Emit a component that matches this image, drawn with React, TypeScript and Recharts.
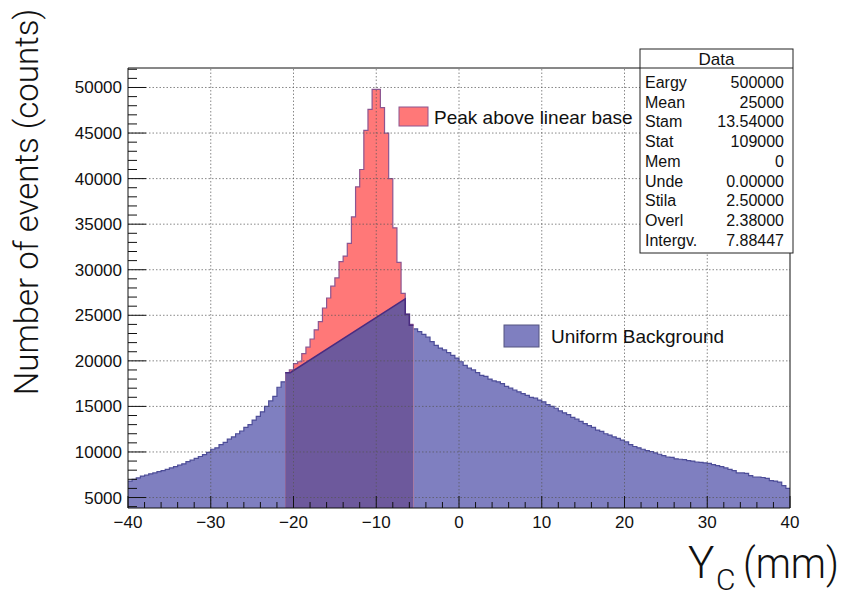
import React from 'react';
import { ComposedChart, Area, XAxis, YAxis, ReferenceLine } from 'recharts';

// ---------- data ----------
const binWidth = 0.5;
const histStart = -40;

// Uniform background, 0.5 mm bins from -40 to 40 (null where hidden by the peak window)
const backgroundCounts: (number | null)[] = [
  // -40 .. -21
  6800, 7000, 7150, 7350, 7450, 7600, 7700, 7850, 7950, 8100,
  8250, 8400, 8550, 8700, 8950, 9100, 9300, 9500, 9700, 9950,
  10300, 10450, 10800, 11050, 11400, 11650, 12000, 12300, 12700, 13000,
  13500, 13900, 14400, 15000, 15600, 16100, 17100, 17700,
  // -21 .. -5.5 (window)
  null, null, null, null, null, null, null, null, null, null,
  null, null, null, null, null, null, null, null, null, null,
  null, null, null, null, null, null, null, null, null, null, null,
  // -5.5 .. 40
  23500, 23200, 22900, 22600, 22100, 21700, 21400, 21200, 20900, 20600,
  20300, 19900, 19500, 19200, 19000, 18700, 18400, 18300, 18000, 17800,
  17700, 17500, 17200, 17000, 16800, 16600, 16400, 16200, 16000, 15900,
  15700, 15500, 15200, 15000, 14800, 14500, 14300, 14100, 13800, 13600,
  13350, 13100, 12900, 12700, 12400, 12250, 12000, 11850, 11650, 11500,
  11300, 11100, 10800, 10600, 10450, 10300, 10150, 10050, 9900, 9750,
  9600, 9450, 9400, 9250, 9200, 9150, 9050, 9000, 8900, 8850,
  8800, 8750, 8600, 8500, 8400, 8250, 8100, 7950, 7700, 7700,
  7650, 7400, 7250, 7250, 7200, 7100, 6850, 6800, 6700, 6300, 6000,
];

// Peak histogram inside the window, 0.5 mm bins from -21 to -5.5
const peakStart = -21;
const peakCounts: number[] = [
  18700, 19000, 19700, 19900, 20800, 21500, 22400, 23400, 24300, 25800,
  26900, 28200, 29100, 30900, 31500, 32900, 35800, 39100, 41000, 45300,
  47600, 49800, 49800, 47800, 45000, 40000, 34600, 30800, 27400, 25100, 24000,
];

// Linear base under the peak (window outline)
const baseX = [-21, -20.4, -6.5, -6.5, -6.0, -6.0, -5.5];
const baseY = [18700, 18700, 26800, 25100, 25100, 23900, 23900];

const xGrid = [-30, -20, -10, 0, 10, 20, 30];
const yGrid = [5000, 10000, 15000, 20000, 25000, 30000, 35000, 40000, 45000, 50000];
const xTicks: number[] = [];
for (let v = -40; v <= 40; v += 2) xTicks.push(v);
const yTicks: number[] = [];
for (let v = 4000; v <= 52000; v += 1000) yTicks.push(v);

const statLabels = ['Eargy', 'Mean', 'Stam', 'Stat', 'Mem', 'Unde', 'Stila', 'Overl', 'Intergv.'];
const statValues = ['500000', '25000', '13.54000', '109000', '0', '0.00000', '2.50000', '2.38000', '7.88447'];

const legendLabels = ['Peak above linear base', 'Uniform Background'];

// ---------- helpers ----------
function stepRows(start: number, width: number, counts: (number | null)[]) {
  const rows: { x: number; y: number | null }[] = [];
  for (let i = 0; i < counts.length; i++) {
    const c = counts[i];
    const prev = i > 0 ? counts[i - 1] : null;
    rows.push({ x: start + i * width, y: c != null ? c : prev });
  }
  rows.push({ x: start + counts.length * width, y: counts[counts.length - 1] });
  return rows;
}

const bgRows = stepRows(histStart, binWidth, backgroundCounts);
const peakRows = stepRows(peakStart, binWidth, peakCounts);
const baseRows = baseX.map((x, i) => ({ x, y: baseY[i] }));

const FONT = '"Liberation Sans", Arial, Helvetica, sans-serif';
const LIGHT = 'Roboto, "Noto Sans", sans-serif';

const fmt = (v: number) => (v < 0 ? '\u2212' + Math.abs(v) : String(v));

const XTick = (props: any) => {
  const { x, y, payload } = props;
  const v = payload.value as number;
  const major = Math.abs(v % 10) === 0;
  return (
    <g>
      <line x1={x} x2={x} y1={y} y2={y - (major ? 12 : 6)} stroke="#111" strokeWidth={1} />
      {major && (
        <text x={x} y={y + 20} textAnchor="middle" fontSize={17} fontFamily={FONT} fill="#111">
          {fmt(v)}
        </text>
      )}
    </g>
  );
};

const YTick = (props: any) => {
  const { x, y, payload } = props;
  const v = payload.value as number;
  const major = v % 5000 === 0;
  return (
    <g>
      <line x1={x} x2={x + (major ? 18 : 9)} y1={y} y2={y} stroke="#111" strokeWidth={1} />
      {major && (
        <text x={x - 6} y={y + 6} textAnchor="end" fontSize={17} fontFamily={FONT} fill="#111">
          {v}
        </text>
      )}
    </g>
  );
};

const BLUE = '#7f7fc0';
const BLUE_EDGE = '#4d4d98';
const RED = '#ff7878';
const RED_EDGE = '#8c5590';
const PURPLE = '#6d599c';
const LINE = '#4a2c80';

export default function App() {
  const rowY0 = 82;
  const rowStep = 19.7;
  return (
    <div style={{ position: 'absolute', left: 0, top: 0, width: 846, height: 598, background: '#fff' }}>
      <ComposedChart
        width={846}
        height={598}
        margin={{ top: 68, right: 56, bottom: 60, left: 68 }}
      >
        <XAxis
          dataKey="x"
          type="number"
          domain={[-40, 40]}
          ticks={xTicks}
          interval={0}
          tickSize={0}
          tickMargin={0}
          tickLine={false}
          tick={<XTick />}
          axisLine={{ stroke: '#111', strokeWidth: 1 }}
          height={30}
          allowDataOverflow
        />
        <YAxis
          dataKey="y"
          type="number"
          domain={[3850, 52140]}
          ticks={yTicks}
          interval={0}
          tickSize={0}
          tickMargin={0}
          tickLine={false}
          tick={<YTick />}
          axisLine={{ stroke: '#111', strokeWidth: 1 }}
          width={60}
          allowDataOverflow
        />
        <Area
          data={bgRows}
          dataKey="y"
          type="stepAfter"
          baseValue="dataMin"
          fill={BLUE}
          fillOpacity={1}
          stroke={BLUE_EDGE}
          strokeWidth={1.2}
          isAnimationActive={false}
          connectNulls={false}
        />
        <Area
          data={peakRows}
          dataKey="y"
          type="stepAfter"
          baseValue="dataMin"
          fill={RED}
          fillOpacity={1}
          stroke={RED_EDGE}
          strokeWidth={1.2}
          isAnimationActive={false}
        />
        <Area
          data={baseRows}
          dataKey="y"
          type="linear"
          baseValue="dataMin"
          fill={PURPLE}
          fillOpacity={1}
          stroke={LINE}
          strokeWidth={1.6}
          isAnimationActive={false}
        />
        {xGrid.map((v) => (
          <ReferenceLine key={'gx' + v} x={v} stroke="#555" strokeOpacity={0.7} strokeDasharray="1.5 2" />
        ))}
        {yGrid.map((v) => (
          <ReferenceLine key={'gy' + v} y={v} stroke="#555" strokeOpacity={0.7} strokeDasharray="1.5 2" />
        ))}
      </ComposedChart>
      <svg
        width={846}
        height={598}
        style={{ position: 'absolute', left: 0, top: 0, pointerEvents: 'none' }}
      >
        {/* frame top / right */}
        <line x1={128} x2={790} y1={68} y2={68} stroke="#111" strokeWidth={1} />
        <line x1={790} x2={790} y1={68} y2={508} stroke="#111" strokeWidth={1} />

        {/* legend */}
        <rect x={399} y={107} width={29} height={19} fill={RED} stroke={RED_EDGE} strokeWidth={1} />
        <text x={434} y={124} fontSize={19} fontFamily={FONT} fill="#111">{legendLabels[0]}</text>
        <rect x={504} y={325} width={35} height={22} fill={BLUE} stroke="#555580" strokeWidth={1} />
        <text x={551} y={343} fontSize={19} fontFamily={FONT} fill="#111">{legendLabels[1]}</text>

        {/* stats box */}
        <rect x={640} y={49} width={153} height={204} fill="#fff" stroke="#222" strokeWidth={1} />
        <line x1={640} x2={793} y1={68} y2={68} stroke="#222" strokeWidth={1} />
        <text x={716.5} y={65} textAnchor="middle" fontSize={17} fontFamily={FONT} fill="#111">Data</text>
        {statLabels.map((l, i) => (
          <g key={l}>
            <text x={645} y={rowY0 + i * rowStep + 6} fontSize={16} fontFamily={FONT} fill="#111">{l}</text>
            <text x={784} y={rowY0 + i * rowStep + 6} textAnchor="end" fontSize={16} fontFamily={FONT} fill="#111">
              {statValues[i]}
            </text>
          </g>
        ))}

        {/* axis titles */}
        <text
          transform="translate(38,202) rotate(-90)"
          textAnchor="middle"
          fontSize={33}
          fontWeight={300}
          fontFamily={LIGHT}
          fill="#111"
        >
          Number of events (counts)
        </text>
        <text x={688} y={578} fontSize={44} fontWeight={300} fontFamily={LIGHT} fill="#111">Y</text>
        <text x={716} y={590} fontSize={30} fontWeight={300} fontFamily={LIGHT} fill="#111">C</text>
        <text x={743} y={578} fontSize={42} fontWeight={300} fontFamily={LIGHT} fill="#111" textLength={96} lengthAdjust="spacingAndGlyphs">(mm)</text>
      </svg>
    </div>
  );
}
